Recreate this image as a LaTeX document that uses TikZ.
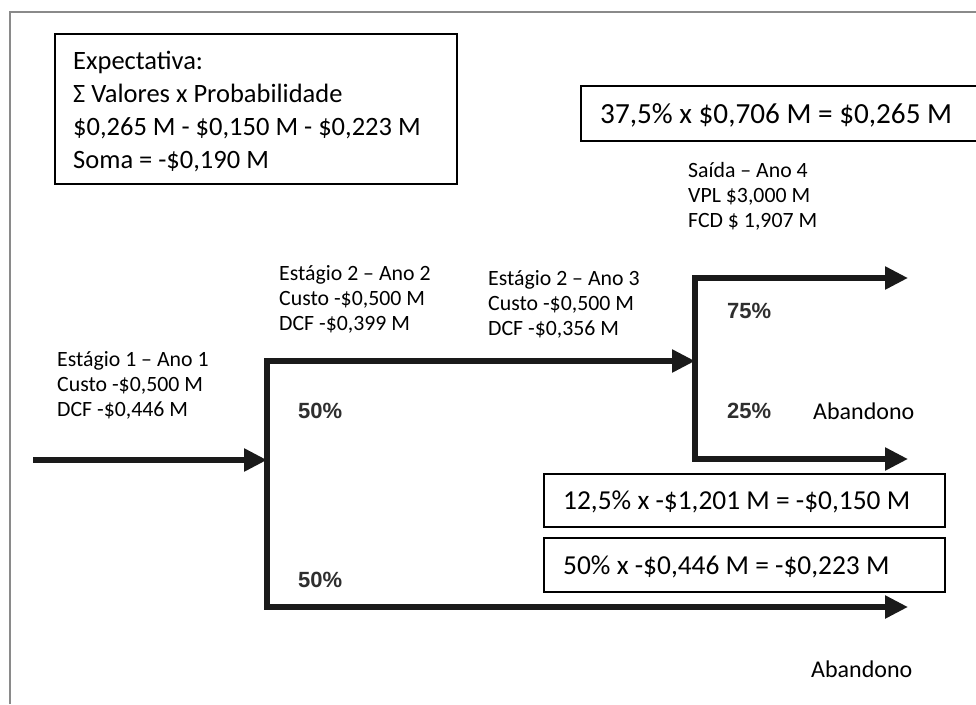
\documentclass[tikz,border=0pt]{standalone}
\usepackage{fontspec}
\setmainfont{Carlito}
\newfontfamily\pctfont{Liberation Sans}
\usetikzlibrary{arrows.meta}
\definecolor{treeink}{HTML}{1A1A1A}
\definecolor{framegray}{HTML}{8A8A8A}
\definecolor{pctgray}{HTML}{2E2E2E}

\begin{document}
\begin{tikzpicture}[x=1pt,y=-1pt,
    branch/.style={draw=treeink,line width=5.5pt,line join=miter,
      -{Triangle[length=23pt,width=22pt]}},
    stagetext/.style={anchor=base west,inner sep=0pt,align=left,
      font=\fontsize{21.8}{25}\selectfont},
    pct/.style={anchor=base west,inner sep=0pt,text=pctgray,
      font=\pctfont\bfseries\fontsize{22}{22}\selectfont},
    calcbox/.style={draw,line width=1.6pt,anchor=north west,inner sep=0pt},
    calctext/.style={anchor=base west,inner sep=0pt,align=left,
      font=\fontsize{27.4}{30}\selectfont}]
    \useasboundingbox (0,0) rectangle (976,704);
    \draw[framegray,line width=2pt] (10,704) -- (10,12) -- (976,12);

    \coordinate (start) at (33,460);
    \coordinate (j1) at (267,460);
    \coordinate (j1top) at (267,361);
    \coordinate (j1bot) at (267,607);
    \coordinate (j2) at (695,361);
    \coordinate (j2top) at (695,278);
    \coordinate (j2bot) at (695,459);
    \coordinate (end75) at (908,278);
    \coordinate (end25) at (908,459);
    \coordinate (endab) at (908,607);

    \draw[branch] (start) -- (j1);
    \draw[branch] (j1) -- (j1top) -- (j2);
    \draw[branch] (j1) -- (j1bot) -- (endab);
    \draw[branch] (j2) -- (j2top) -- (end75);
    \draw[branch] (j2) -- (j2bot) -- (end25);

    \node[calcbox,minimum width=402pt,minimum height=150pt] (expect) at (54,33) {};
    \node[calctext,font=\fontsize{26.5}{33}\selectfont] (expecttxt)
      at ([shift={(19,135)}]expect.north west) {Expectativa:\\Σ Valores x Probabilidade\\
      \$0,265 M - \$0,150 M - \$0,223 M\\Soma = -\$0,190 M};

    \node[calcbox,minimum width=410pt,minimum height=55pt] (res265) at (580,85) {};
    \node[calctext,font=\fontsize{29.2}{30}\selectfont] (res265txt)
      at ([shift={(20,38)}]res265.north west) {37,5\% x \$0,706 M = \$0,265 M};
    \node[calcbox,minimum width=401pt,minimum height=53pt] (res150) at (543,473) {};
    \node[calctext] (res150txt)
      at ([shift={(20,36)}]res150.north west) {12,5\% x -\$1,201 M = -\$0,150 M};
    \node[calcbox,minimum width=401pt,minimum height=54pt] (res223) at (543,537) {};
    \node[calctext] (res223txt)
      at ([shift={(20,37)}]res223.north west) {50\% x -\$0,446 M = -\$0,223 M};

    \node[stagetext] (stage1) at (57,416)
      {Estágio 1 – Ano 1\\Custo -\$0,500 M\\DCF -\$0,446 M};
    \node[stagetext] (stage2) at (279,330)
      {Estágio 2 – Ano 2\\Custo -\$0,500 M\\DCF -\$0,399 M};
    \node[stagetext] (stage3) at (488,335)
      {Estágio 2 – Ano 3\\Custo -\$0,500 M\\DCF -\$0,356 M};
    \node[stagetext] (exit4) at (688,227)
      {Saída – Ano 4\\VPL \$3,000 M\\FCD \$ 1,907 M};

    \node[pct] (p50up) at (298,418) {50\%};
    \node[pct] (p50down) at (298,587) {50\%};
    \node[pct] (p75) at (727,318) {75\%};
    \node[pct] (p25) at (727,418) {25\%};

    \node[stagetext,font=\fontsize{24}{25}\selectfont] (aband1) at (813,419) {Abandono};
    \node[stagetext,font=\fontsize{24}{25}\selectfont] (aband2) at (811,677) {Abandono};
  \end{tikzpicture}
\end{document}
